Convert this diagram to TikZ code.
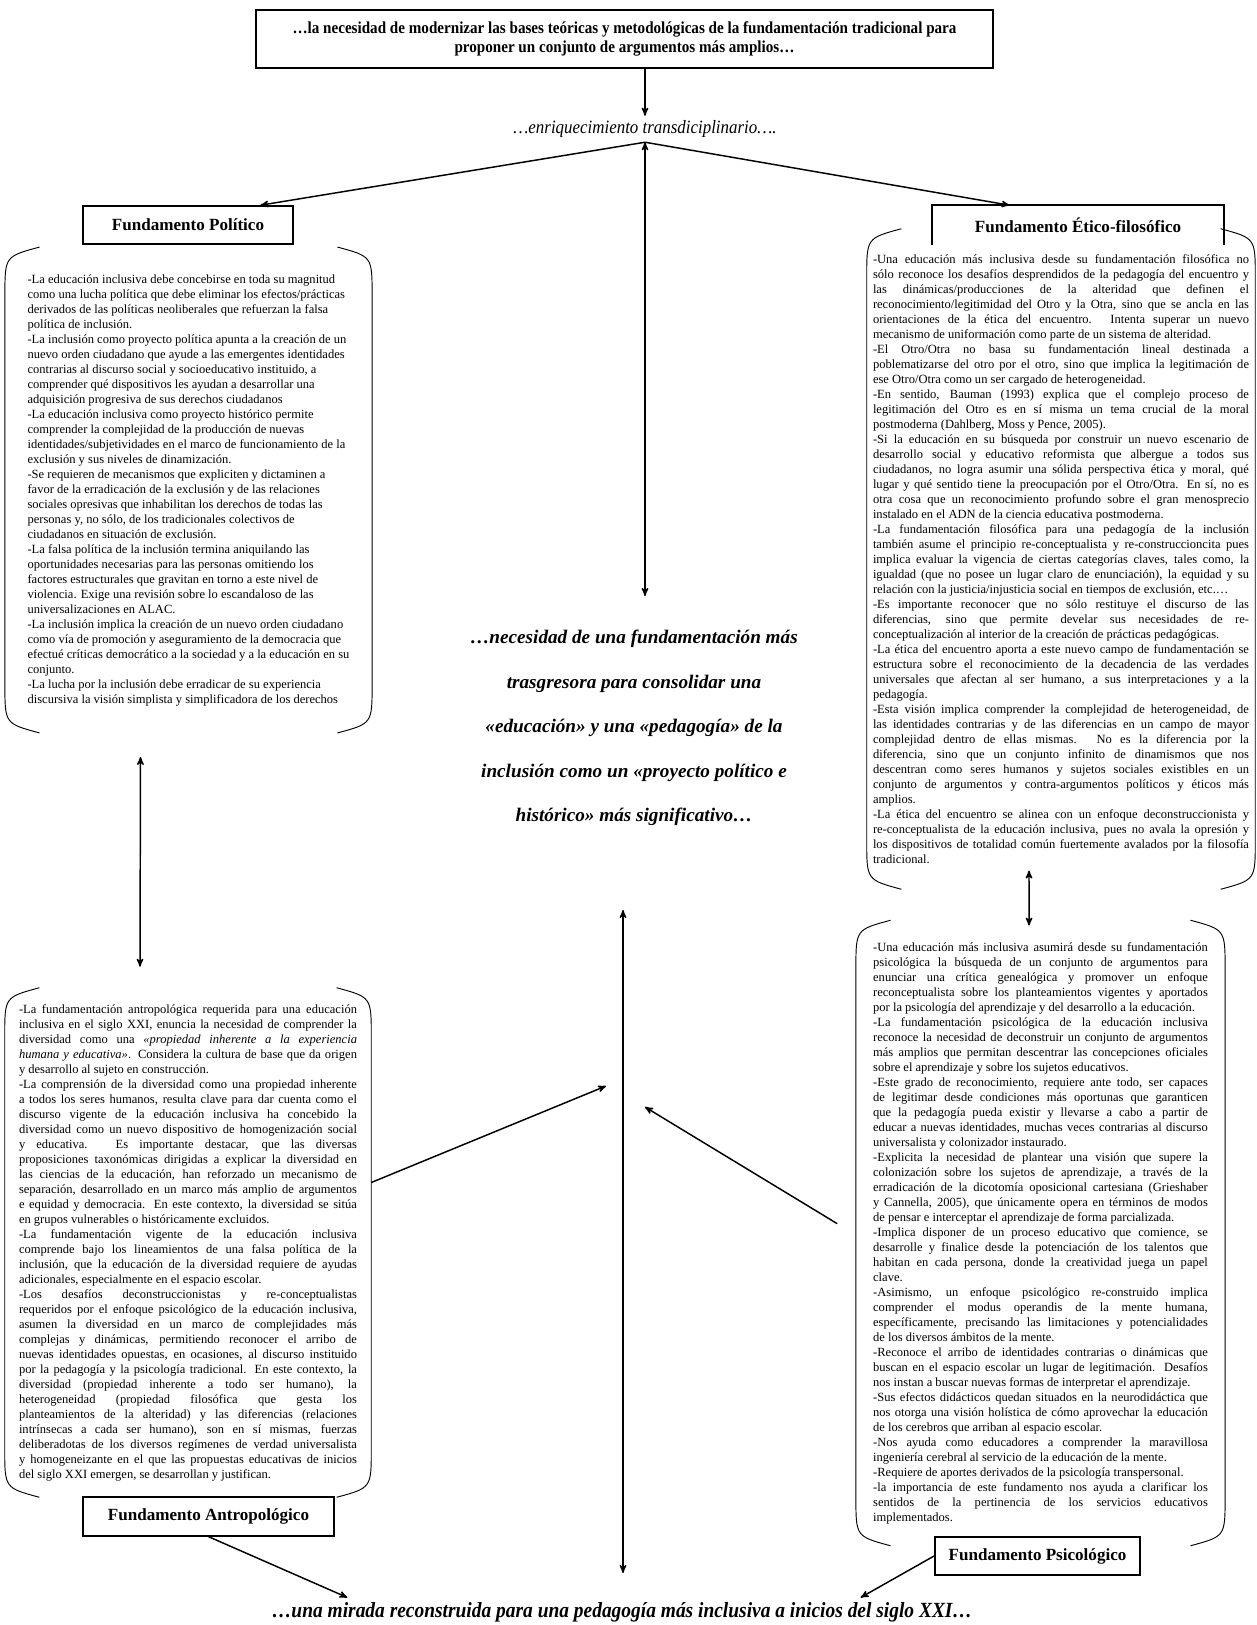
\documentclass[tikz,border=0pt]{standalone}
\usepackage{fontspec}
\setmainfont{Liberation Serif}
\newfontfamily\narrowfont[FakeStretch=0.9]{Liberation Serif}
\usetikzlibrary{arrows}
\hyphenpenalty=10000
\exhyphenpenalty=10000

\tikzstyle{fb} = [rectangle, draw, line width=1.2pt, inner sep=2pt,
    font=\bfseries\fontsize{12.8}{15}\selectfont]
\tikzstyle{blk} = [rectangle, inner ysep=0pt, font=\fontsize{9.4}{11.25}\selectfont]
\tikzstyle{brk} = [line width=0.7pt]
\tikzstyle{arr} = [line width=1.1pt]

% parenthesis-like brackets on both sides of a text block (optional: raise them)
\newcommand{\bracketpair}[2][0pt]{%
  \draw[brk,yshift=#1] ([xshift=26pt]#2.north west) .. controls ([yshift=-7pt]#2.north west) .. ([yshift=-36pt]#2.north west)
    -- ([yshift=36pt]#2.south west) .. controls ([yshift=7pt]#2.south west) .. ([xshift=26pt]#2.south west);
  \draw[brk,yshift=#1] ([xshift=-26pt]#2.north east) .. controls ([yshift=-7pt]#2.north east) .. ([yshift=-36pt]#2.north east)
    -- ([yshift=36pt]#2.south east) .. controls ([yshift=7pt]#2.south east) .. ([xshift=-26pt]#2.south east);
}

\begin{document}
\begin{tikzpicture}[x=0.75pt,y=-0.75pt,>=stealth']
  \useasboundingbox (0,0) rectangle (1257,1625);

  \node[fb, minimum width=552.75pt, minimum height=43.5pt, align=center,
        font=\narrowfont\bfseries\fontsize{12.6}{14.25}\selectfont] (top) at (624.5,39)
        {…la necesidad de modernizar las bases teóricas y metodológicas de la fundamentación tradicional para\\
         proponer un conjunto de argumentos más amplios…};
  \node[font=\narrowfont\itshape\fontsize{14.1}{16}\selectfont] (enr) at (645,129) {…enriquecimiento transdiciplinario….};

  \node[fb, minimum width=157.5pt, minimum height=28.5pt] (fpol) at (188,225) {Fundamento Político};
  \node[fb, draw=none, minimum width=217.5pt, minimum height=28.5pt] (feti) at (1078,225) {Fundamento Ético-filosófico};
  \draw[line width=1.2pt] (feti.south west) |- (feti.north east) -- (feti.south east);

  \node[blk, align=left, minimum width=275pt, minimum height=364pt] (pol) at (188.5,490)
  {-La educación inclusiva debe concebirse en toda su magnitud\\
   como una lucha política que debe eliminar los efectos/prácticas\\
   derivados de las políticas neoliberales que refuerzan la falsa\\
   política de inclusión.\\
   -La inclusión como proyecto política apunta a la creación de un\\
   nuevo orden ciudadano que ayude a las emergentes identidades\\
   contrarias al discurso social y socioeducativo instituido, a\\
   comprender qué dispositivos les ayudan a desarrollar una\\
   adquisición progresiva de sus derechos ciudadanos\\
   -La educación inclusiva como proyecto histórico permite\\
   comprender la complejidad de la producción de nuevas\\
   identidades/subjetividades en el marco de funcionamiento de la\\
   exclusión y sus niveles de dinamización.\\
   -Se requieren de mecanismos que expliciten y dictaminen a\\
   favor de la erradicación de la exclusión y de las relaciones\\
   sociales opresivas que inhabilitan los derechos de todas las\\
   personas y, no sólo, de los tradicionales colectivos de\\
   ciudadanos en situación de exclusión.\\
   -La falsa política de la inclusión termina aniquilando las\\
   oportunidades necesarias para las personas omitiendo los\\
   factores estructurales que gravitan en torno a este nivel de\\
   violencia. Exige una revisión sobre lo escandaloso de las\\
   universalizaciones en ALAC.\\
   -La inclusión implica la creación de un nuevo orden ciudadano\\
   como vía de promoción y aseguramiento de la democracia que\\
   efectué críticas democrático a la sociedad y a la educación en su\\
   conjunto.\\
   -La lucha por la inclusión debe erradicar de su experiencia\\
   discursiva la visión simplista y simplificadora de los derechos};

  \node[blk, align=justify, text width=282pt, inner xsep=4.5pt, minimum height=495pt] (eti) at (1061,559)
  {-Una educación más inclusiva desde su fundamentación filosófica no\linebreak
   sólo reconoce los desafíos desprendidos de la pedagogía del encuentro y\linebreak
   las dinámicas/producciones de la alteridad que definen el\linebreak
   reconocimiento/legitimidad del Otro y la Otra, sino que se ancla en las\linebreak
   orientaciones de la ética del encuentro. Intenta superar un nuevo\linebreak
   mecanismo de uniformación como parte de un sistema de alteridad.\par
   -El Otro/Otra no basa su fundamentación lineal destinada a\linebreak
   poblematizarse del otro por el otro, sino que implica la legitimación de\linebreak
   ese Otro/Otra como un ser cargado de heterogeneidad.\par
   -En sentido, Bauman (1993) explica que el complejo proceso de\linebreak
   legitimación del Otro es en sí misma un tema crucial de la moral\linebreak
   postmoderna (Dahlberg, Moss y Pence, 2005).\par
   -Si la educación en su búsqueda por construir un nuevo escenario de\linebreak
   desarrollo social y educativo reformista que albergue a todos sus\linebreak
   ciudadanos, no logra asumir una sólida perspectiva ética y moral, qué\linebreak
   lugar y qué sentido tiene la preocupación por el Otro/Otra. En sí, no es\linebreak
   otra cosa que un reconocimiento profundo sobre el gran menosprecio\linebreak
   instalado en el ADN de la ciencia educativa postmoderna.\par
   -La fundamentación filosófica para una pedagogía de la inclusión\linebreak
   también asume el principio re-conceptualista y re-construccioncita pues\linebreak
   implica evaluar la vigencia de ciertas categorías claves, tales como, la\linebreak
   igualdad (que no posee un lugar claro de enunciación), la equidad y su\linebreak
   relación con la justicia/injusticia social en tiempos de exclusión, etc.…\par
   -Es importante reconocer que no sólo restituye el discurso de las\linebreak
   diferencias, sino que permite develar sus necesidades de re-\linebreak
   conceptualización al interior de la creación de prácticas pedagógicas.\par
   -La ética del encuentro aporta a este nuevo campo de fundamentación se\linebreak
   estructura sobre el reconocimiento de la decadencia de las verdades\linebreak
   universales que afectan al ser humano, a sus interpretaciones y a la\linebreak
   pedagogía.\par
   -Esta visión implica comprender la complejidad de heterogeneidad, de\linebreak
   las identidades contrarias y de las diferencias en un campo de mayor\linebreak
   complejidad dentro de ellas mismas. No es la diferencia por la\linebreak
   diferencia, sino que un conjunto infinito de dinamismos que nos\linebreak
   descentran como seres humanos y sujetos sociales existibles en un\linebreak
   conjunto de argumentos y contra-argumentos políticos y éticos más\linebreak
   amplios.\par
   -La ética del encuentro se alinea con un enfoque deconstruccionista y\linebreak
   re-conceptualista de la educación inclusiva, pues no avala la opresión y\linebreak
   los dispositivos de totalidad común fuertemente avalados por la filosofía\linebreak
   tradicional.};

  \node[blk, align=justify, text width=253.5pt, inner xsep=10.5pt, minimum height=381.75pt] (ant) at (188,1242.5)
  {-La fundamentación antropológica requerida para una educación\linebreak
   inclusiva en el siglo XXI, enuncia la necesidad de comprender la\linebreak
   diversidad como una \textit{«propiedad inherente a la experiencia\linebreak
   humana y educativa»}. Considera la cultura de base que da origen\linebreak
   y desarrollo al sujeto en construcción.\par
   -La comprensión de la diversidad como una propiedad inherente\linebreak
   a todos los seres humanos, resulta clave para dar cuenta como el\linebreak
   discurso vigente de la educación inclusiva ha concebido la\linebreak
   diversidad como un nuevo dispositivo de homogenización social\linebreak
   y educativa. Es importante destacar, que las diversas\linebreak
   proposiciones taxonómicas dirigidas a explicar la diversidad en\linebreak
   las ciencias de la educación, han reforzado un mecanismo de\linebreak
   separación, desarrollado en un marco más amplio de argumentos\linebreak
   e equidad y democracia. En este contexto, la diversidad se sitúa\linebreak
   en grupos vulnerables o históricamente excluidos.\par
   -La fundamentación vigente de la educación inclusiva\linebreak
   comprende bajo los lineamientos de una falsa política de la\linebreak
   inclusión, que la educación de la diversidad requiere de ayudas\linebreak
   adicionales, especialmente en el espacio escolar.\par
   -Los desafíos deconstruccionistas y re-conceptualistas\linebreak
   requeridos por el enfoque psicológico de la educación inclusiva,\linebreak
   asumen la diversidad en un marco de complejidades más\linebreak
   complejas y dinámicas, permitiendo reconocer el arribo de\linebreak
   nuevas identidades opuestas, en ocasiones, al discurso instituido\linebreak
   por la pedagogía y la psicología tradicional. En este contexto, la\linebreak
   diversidad (propiedad inherente a todo ser humano), la\linebreak
   heterogeneidad (propiedad filosófica que gesta los\linebreak
   planteamientos de la alteridad) y las diferencias (relaciones\linebreak
   intrínsecas a cada ser humano), son en sí mismas, fuerzas\linebreak
   deliberadotas de los diversos regímenes de verdad universalista\linebreak
   y homogeneizante en el que las propuestas educativas de inicios\linebreak
   del siglo XXI emergen, se desarrollan y justifican.};

  \node[blk, align=justify, text width=251pt, inner xsep=12.75pt, minimum height=468.75pt] (psi) at (1040.5,1233)
  {-Una educación más inclusiva asumirá desde su fundamentación\linebreak
   psicológica la búsqueda de un conjunto de argumentos para\linebreak
   enunciar una crítica genealógica y promover un enfoque\linebreak
   reconceptualista sobre los planteamientos vigentes y aportados\linebreak
   por la psicología del aprendizaje y del desarrollo a la educación.\par
   -La fundamentación psicológica de la educación inclusiva\linebreak
   reconoce la necesidad de deconstruir un conjunto de argumentos\linebreak
   más amplios que permitan descentrar las concepciones oficiales\linebreak
   sobre el aprendizaje y sobre los sujetos educativos.\par
   -Este grado de reconocimiento, requiere ante todo, ser capaces\linebreak
   de legitimar desde condiciones más oportunas que garanticen\linebreak
   que la pedagogía pueda existir y llevarse a cabo a partir de\linebreak
   educar a nuevas identidades, muchas veces contrarias al discurso\linebreak
   universalista y colonizador instaurado.\par
   -Explicita la necesidad de plantear una visión que supere la\linebreak
   colonización sobre los sujetos de aprendizaje, a través de la\linebreak
   erradicación de la dicotomía oposicional cartesiana (Grieshaber\linebreak
   y Cannella, 2005), que únicamente opera en términos de modos\linebreak
   de pensar e interceptar el aprendizaje de forma parcializada.\par
   -Implica disponer de un proceso educativo que comience, se\linebreak
   desarrolle y finalice desde la potenciación de los talentos que\linebreak
   habitan en cada persona, donde la creatividad juega un papel\linebreak
   clave.\par
   -Asimismo, un enfoque psicológico re-construido implica\linebreak
   comprender el modus operandis de la mente humana,\linebreak
   específicamente, precisando las limitaciones y potencialidades\linebreak
   de los diversos ámbitos de la mente.\par
   -Reconoce el arribo de identidades contrarias o dinámicas que\linebreak
   buscan en el espacio escolar un lugar de legitimación. Desafíos\linebreak
   nos instan a buscar nuevas formas de interpretar el aprendizaje.\par
   -Sus efectos didácticos quedan situados en la neurodidáctica que\linebreak
   nos otorga una visión holística de cómo aprovechar la educación\linebreak
   de los cerebros que arriban al espacio escolar.\par
   -Nos ayuda como educadores a comprender la maravillosa\linebreak
   ingeniería cerebral al servicio de la educación de la mente.\par
   -Requiere de aportes derivados de la psicología transpersonal.\par
   -la importancia de este fundamento nos ayuda a clarificar los\linebreak
   sentidos de la pertinencia de los servicios educativos\linebreak
   implementados.};

  \bracketpair{pol}
  \bracketpair[3pt]{eti}
  \bracketpair{ant}
  \bracketpair[7.9pt]{psi}

  \node[align=center, font=\bfseries\itshape\fontsize{14.4}{33.4}\selectfont] (nec) at (634,728)
  {…necesidad de una fundamentación más\\ trasgresora para consolidar una\\
   «educación» y una «pedagogía» de la\\ inclusión como un «proyecto político e\\
   histórico» más significativo…};

  \node[fb, minimum width=188pt, minimum height=29pt] (fant) at (208.5,1516.5) {Fundamento Antropológico};
  \node[fb, minimum width=154pt, minimum height=28.5pt] (fpsi) at (1037.5,1556) {Fundamento Psicológico};
  \node[font=\narrowfont\bfseries\itshape\fontsize{16.2}{18}\selectfont] (mir) at (622,1612)
       {…una mirada reconstruida para una pedagogía más inclusiva a inicios del siglo XXI…};

  \coordinate (c1) at (642,596);
  \coordinate (c2) at (623,910);
  \coordinate (c3) at (623,1573);
  \coordinate (hl) at (606,1086);
  \coordinate (hr) at (645,1107);

  \draw[arr,->] (enr.north |- top.south) -- (enr.north);
  \draw[arr,->] (enr.south) -- ([xshift=-25pt]fpol.north east);
  \draw[arr,->] (enr.south) -- ([xshift=58pt]feti.north west);
  \draw[arr,<->] (enr.south) -- (enr.south |- c1);
  \draw[arr,<->] ([xshift=-36pt,yshift=-18pt]pol.south) -- ([xshift=-36pt,yshift=15.75pt]ant.north);
  \draw[arr,<->] ([xshift=-24pt,yshift=14pt]eti.south) -- ([xshift=-8.6pt,yshift=-4pt]psi.north);
  \draw[arr,<->] (c2) -- (c3);
  \draw[arr,->] ([yshift=45pt]ant.east) -- (hl);
  \draw[arr,->] ([xshift=-14pt,yshift=7pt]psi.west) -- (hr);
  \draw[arr,->] (fant.south) -- ([xshift=60pt]mir.north west);
  \draw[arr,->] (fpsi.west) -- ([xshift=-87pt]mir.north east);
\end{tikzpicture}
\end{document}
